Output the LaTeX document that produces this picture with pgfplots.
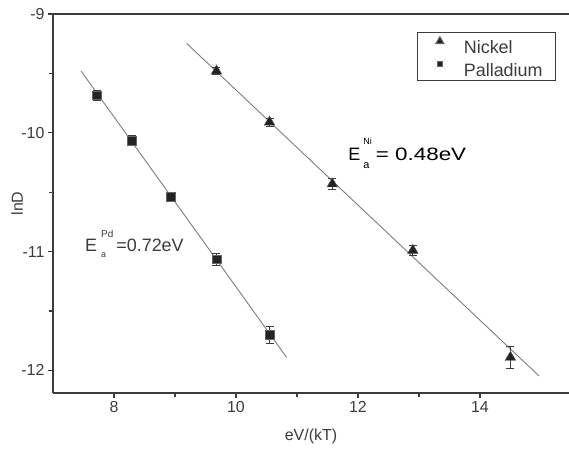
\documentclass[border=0pt]{standalone}
\usepackage{fontspec}
\setmainfont{Liberation Sans}
\usepackage{graphicx}
\usepackage{pgfplots}
\pgfplotsset{compat=1.18}
\usetikzlibrary{calc}
\definecolor{axisgray}{RGB}{60,60,60}
\definecolor{fitgray}{RGB}{125,125,125}
\definecolor{markdark}{RGB}{35,35,35}
\pgfplotsset{
  trilegend/.style={legend image code/.code={\path[draw=none,fill=none] (-9.7bp,0) -- (24bp,0);
    \draw[##1, mark size=4.6bp] plot coordinates {(0,5.5bp)};}},
  sqlegend/.style={legend image code/.code={\path[draw=none,fill=none] (-9.7bp,0) -- (24bp,0);
    \draw[##1, mark size=2.8bp] plot coordinates {(0,5.5bp)};}},
}

\begin{document}
\begin{tikzpicture}
\begin{axis}[
  name=ax,
  scale only axis,
  width=516bp, height=379bp,
  xmin=7, xmax=15.46,
  ymin=-12.19, ymax=-9,
  axis x line=box, axis y line=left,
  x axis line style={-}, y axis line style={-},
  axis line style={draw=axisgray, line width=1.3bp},
  tick pos=left,
  tick align=outside,
  xtick={8,10,12,14}, ytick={-12,-11,-10,-9},
  minor x tick num=1, minor y tick num=1,
  major tick length=5bp, minor tick length=3.5bp,
  every tick/.style={axisgray, line width=1.1bp},
  tick label style={font=\fontsize{16}{18}\selectfont, text=axisgray},
  /pgf/number format/assume math mode=true,
  xlabel={eV/(kT)}, ylabel={lnD},
  label style={font=\fontsize{16}{18}\selectfont, text=axisgray},
  xlabel style={at={(axis description cs:0.5,-0.1135)}, anchor=center},
  ylabel style={at={(axis description cs:-0.0698,0.5)}, anchor=center},
  legend style={at={(0.975,0.952)}, anchor=north east, draw=axisgray,
    line width=1bp, font=\fontsize{18}{20}\selectfont, text=axisgray,
    inner xsep=13bp, inner ysep=4bp, column sep=0pt, row sep=8bp,
    nodes={inner sep=0pt, text height=13bp, text depth=0pt}},
  legend cell align=left,
  clip=false,
]
% linear fits
\addplot[fitgray, line width=0.9bp, forget plot] coordinates {(7.46,-9.48) (10.83,-11.89)};
\addplot[fitgray, line width=0.9bp, forget plot] coordinates {(9.19,-9.247) (14.97,-12.047)};
% Nickel
\addplot[only marks, mark=triangle*, mark size=6.2bp,
  mark options={fill=markdark, draw=markdark!70},
  trilegend,
  error bars/.cd, y dir=both, y explicit,
  error bar style={axisgray, line width=0.8bp},
  error mark options={rotate=90, mark size=4bp, axisgray, line width=0.8bp}]
  coordinates {
  (9.68,-9.48) +- (0,0.03)
  (10.55,-9.91) +- (0,0.035)
  (11.58,-10.43) +- (0,0.045)
  (12.90,-10.99) +- (0,0.045)
  (14.50,-11.89) +- (0,0.095)
};
\addlegendentry{Nickel}
% Palladium
\addplot[only marks, mark=square*, mark size=4.3bp,
  mark options={fill=markdark, draw=markdark!70},
  sqlegend,
  error bars/.cd, y dir=both, y explicit,
  error bar style={axisgray, line width=0.8bp},
  error mark options={rotate=90, mark size=4bp, axisgray, line width=0.8bp}]
  coordinates {
  (7.72,-9.685) +- (0,0.04)
  (8.29,-10.064) +- (0,0.04)
  (8.93,-10.54) +- (0,0.035)
  (9.68,-11.064) +- (0,0.05)
  (10.55,-11.70) +- (0,0.07)
};
\addlegendentry{Palladium}
\node[anchor=base west, font=\fontsize{18}{20}\selectfont, text=axisgray, inner sep=0pt]
  at (axis cs:7.525,-11.0) {E\hspace{4bp}\rlap{\raisebox{-6bp}{\fontsize{9}{9}\selectfont a}}\raisebox{14bp}{\fontsize{10}{10}\selectfont Pd}\hspace{3bp}=0.72eV};
\node[anchor=base west, font=\fontsize{18}{20}\selectfont, text=black, inner sep=0pt]
  at (axis cs:11.84,-10.236) {E\hspace{3bp}\rlap{\raisebox{-8bp}{\fontsize{11}{11}\selectfont a}}\raisebox{16bp}{\fontsize{9}{9}\selectfont Ni}\hspace{4bp}\scalebox{1.25}[1]{= 0.48eV}};
\end{axis}
\pgfresetboundingbox
\path ($(ax.south west)+(-53bp,-56bp)$) rectangle ($(ax.north east)+(0,14bp)$);
\end{tikzpicture}
\end{document}
